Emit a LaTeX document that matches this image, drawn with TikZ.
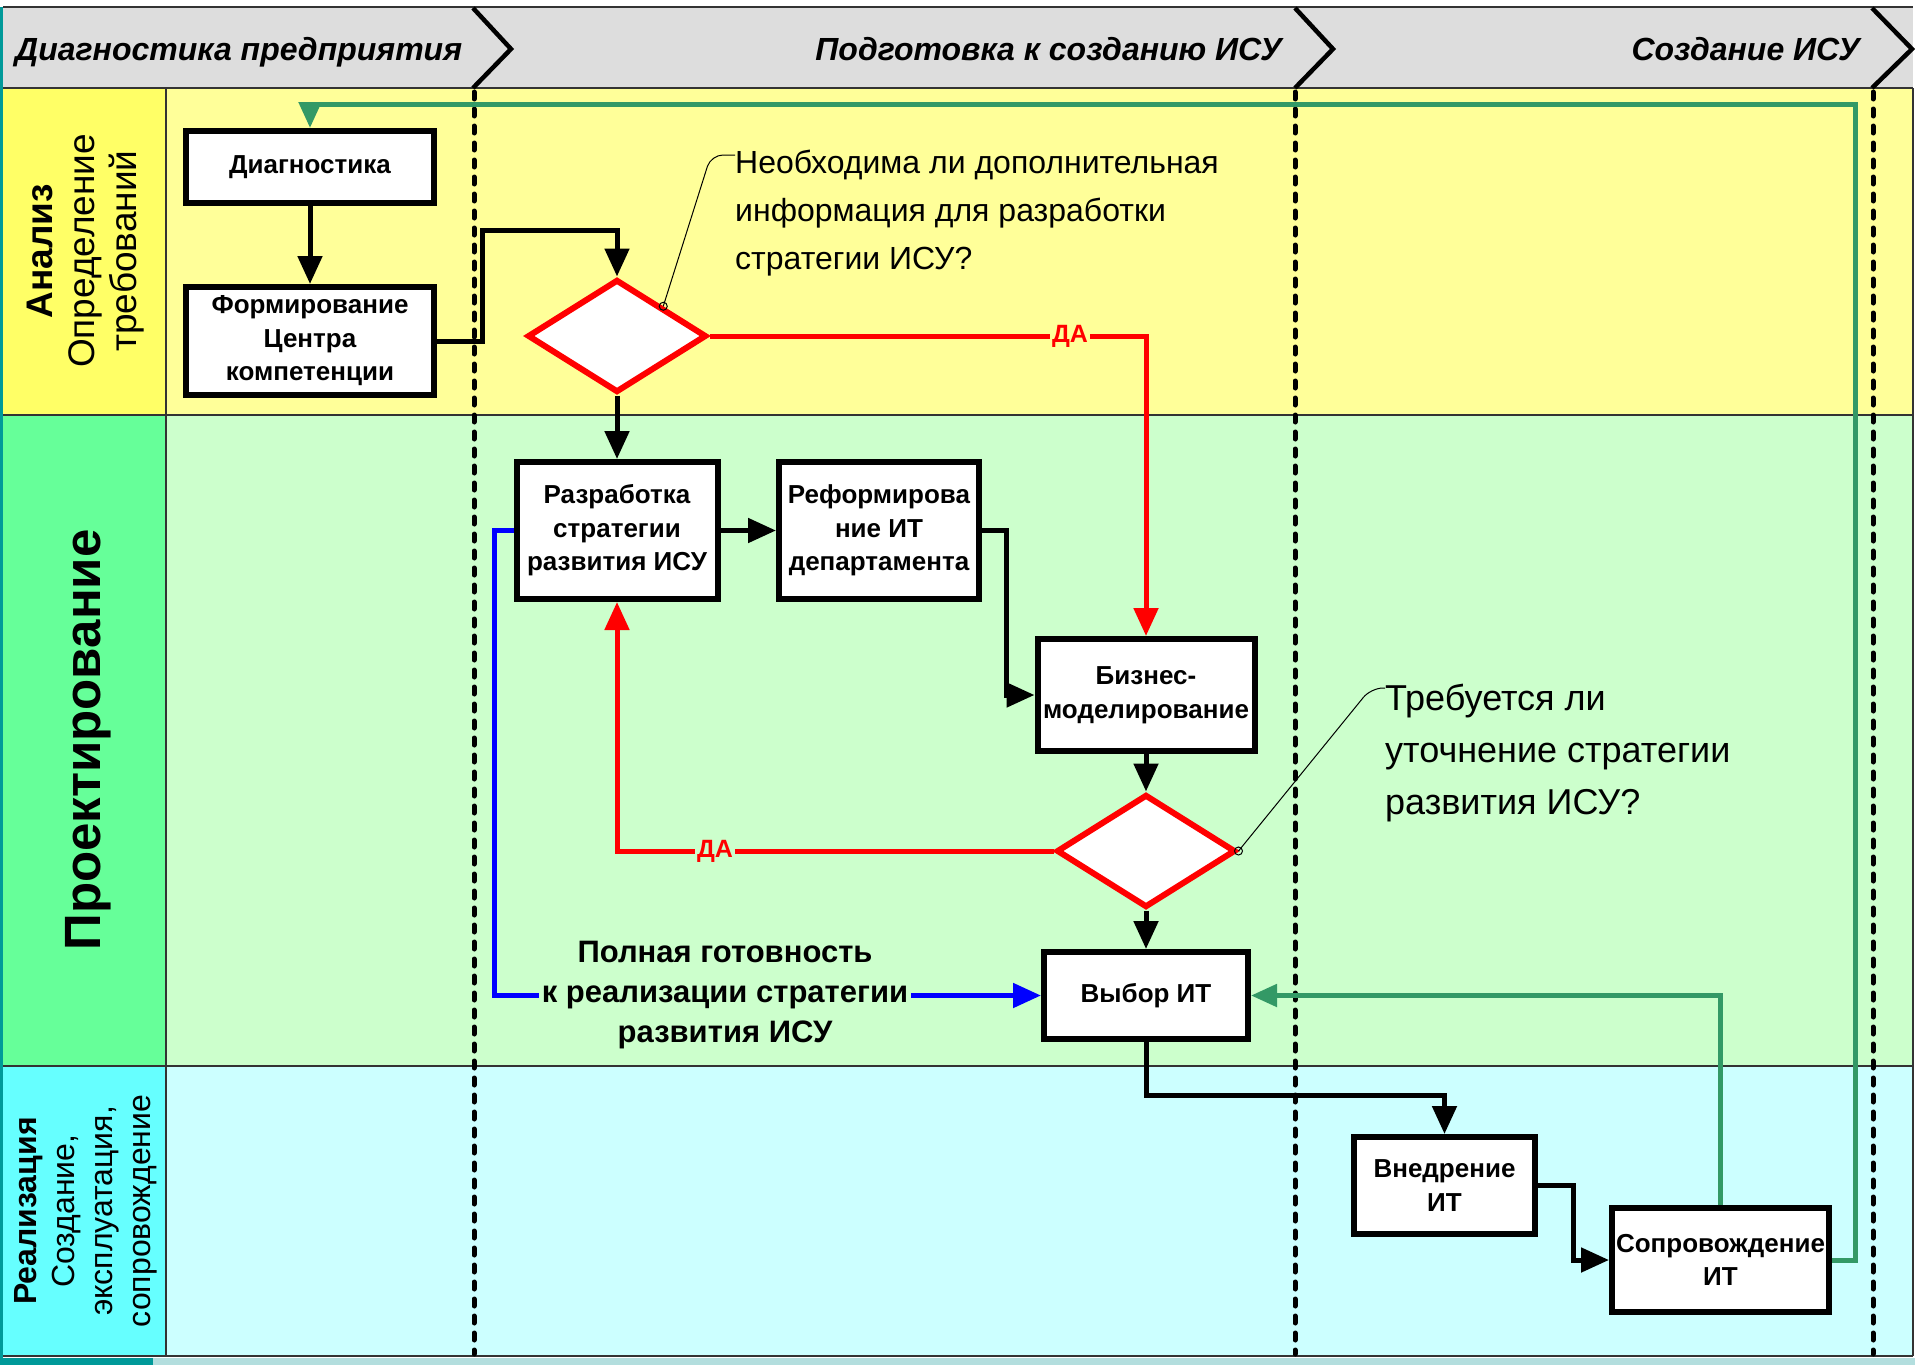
\documentclass[tikz,border=0pt]{standalone}
\usepackage{fontspec}
\setmainfont{Liberation Sans}
\usetikzlibrary{arrows.meta,shapes.geometric,calc}
\definecolor{hdr}{HTML}{DDDDDD}
\definecolor{ycol}{HTML}{FFFF66}
\definecolor{ybody}{HTML}{FFFF99}
\definecolor{gcol}{HTML}{66FF99}
\definecolor{gbody}{HTML}{CCFFCC}
\definecolor{ccol}{HTML}{66FFFF}
\definecolor{cbody}{HTML}{CCFFFF}
\definecolor{tealx}{HTML}{009999}
\definecolor{stripx}{HTML}{B3DEDE}
\definecolor{gline}{HTML}{339966}
\definecolor{redl}{HTML}{FF0000}
\definecolor{bluel}{HTML}{0000FF}
\definecolor{lanel}{HTML}{333333}
\newcommand\bxfont{\fontsize{26pt}{33.5pt}\selectfont\bfseries}
\newcommand\hdfont{\fontsize{32pt}{40pt}\selectfont\bfseries\itshape}
\begin{document}
\begin{tikzpicture}[x=1pt,y=-1pt,
  box/.style={draw=black, line width=6pt, fill=white, inner sep=0pt, align=center, font=\bxfont},
  dec/.style={diamond, draw=redl, line width=6pt, fill=white, minimum width=179pt, minimum height=113pt, inner sep=0pt},
  conn/.style={draw=black, line width=5pt, -{Triangle[length=28pt,width=24pt]}},
  redconn/.style={draw=redl, line width=5pt, -{Triangle[length=28pt,width=24pt]}},
  blueconn/.style={draw=bluel, line width=5pt, -{Triangle[length=28pt,width=24pt]}},
  greenconn/.style={draw=gline, line width=5pt, -{Triangle[length=26pt,width=22pt]}},
  dalab/.style={text=redl, font=\fontsize{25pt}{30pt}\selectfont\bfseries, inner sep=2pt},
  hdrlab/.style={font=\hdfont, inner sep=0pt},
  lanelab/.style={rotate=90, align=center, inner sep=0pt},
  leader/.style={draw=black, line width=1pt},
  dashline/.style={draw=black, line width=5pt, dash pattern=on 7pt off 10pt, line cap=round},
  laneline/.style={draw=lanel, line width=1.5pt}
]
\useasboundingbox (0,0) rectangle (1915,1365);
\fill[white] (0,0) rectangle (1915,1365);
% header
\fill[hdr] (3,7) rectangle (1913,88);
\draw[laneline] (3,7) -- (1913,7);
% lanes
\fill[ycol] (3,88) rectangle (166,415);
\fill[ybody] (166,88) rectangle (1913,415);
\fill[gcol] (3,415) rectangle (166,1066);
\fill[gbody] (166,415) rectangle (1913,1066);
\fill[ccol] (3,1066) rectangle (166,1356);
\fill[cbody] (166,1066) rectangle (1913,1356);
\fill[tealx] (0,7) rectangle (3,1358);
\fill[tealx] (0,1358) rectangle (153,1365);
\fill[stripx] (153,1358) rectangle (1915,1365);
\draw[laneline] (3,88) -- (1913,88);
\draw[laneline] (3,415) -- (1913,415);
\draw[laneline] (3,1066) -- (1913,1066);
\draw[laneline] (3,1356) -- (1913,1356);
\draw[laneline] (166,88) -- (166,1356);
\draw[laneline] (1913,88) -- (1913,1356);
% chevrons
\draw[line width=4.5pt] (473,8) -- (511,49) -- (473,88);
\draw[line width=4.5pt] (1295,8) -- (1333,49) -- (1295,88);
\draw[line width=4.5pt] (1872,8) -- (1912,49) -- (1872,88);
% dashed phase separators
\draw[dashline] (474,92) -- (474,1354);
\draw[dashline] (1295,92) -- (1295,1354);
\draw[dashline] (1873,92) -- (1873,1354);
% header labels
\node[hdrlab, anchor=base west] (h1) at (15,60) {Диагностика предприятия};
\node[hdrlab, anchor=base east] (h2) at (1282,60) {Подготовка к созданию ИСУ};
\node[hdrlab, anchor=base east] (h3) at (1860,60) {Создание ИСУ};
% lane labels
\node[lanelab, font=\fontsize{37pt}{42pt}\selectfont] (l1) at (86,251) {{\bfseries Анализ}\\Определение\\требований};
\node[lanelab, font=\fontsize{51pt}{60pt}\selectfont\bfseries] (l2) at (88,740) {Проектирование};
\node[lanelab, font=\fontsize{32pt}{38pt}\selectfont] (l3) at (86,1211) {{\bfseries Реализация}\\Создание,\\эксплуатация,\\сопровождение};
% nodes
\node[box, minimum width=248pt, minimum height=72pt] (diag) at (310,167) {Диагностика};
\node[box, minimum width=248pt, minimum height=108pt] (form) at (310,341) {Формирование\\Центра\\компетенции};
\node[dec] (d1) at (617,336) {};
\node[box, minimum width=201pt, minimum height=137pt] (razr) at (617,530.5) {Разработка\\стратегии\\развития ИСУ};
\node[box, minimum width=200pt, minimum height=137pt] (reform) at (879,530.5) {Реформирова\\ние ИТ\\департамента};
\node[box, minimum width=217pt, minimum height=112pt] (biz) at (1146,695) {Бизнес-\\моделирование};
\node[dec] (d2) at (1146,851) {};
\node[box, minimum width=204pt, minimum height=87pt] (vybor) at (1146,995.5) {Выбор ИТ};
\node[box, minimum width=181pt, minimum height=97pt] (vnedr) at (1444.5,1185.5) {Внедрение\\ИТ};
\node[box, minimum width=217pt, minimum height=104pt] (sopr) at (1720.5,1260) {Сопровождение\\ИТ};
% black connectors
\coordinate (c1) at (482,230);
\draw[conn] (diag.south) -- (form.north);
\draw[conn] (form.east) -| (c1) -| (d1.north);
\draw[conn] (d1.south) -- (razr.north);
\draw[conn] (razr.east) -- (reform.west);
\draw[conn] (reform.east) -- ++(24,0) |- (biz.west);
\draw[conn] (biz.south) -- (d2.north);
\draw[conn] (d2.south) -- (vybor.north);
\draw[conn] (vybor.south) -- ++(0,53) -| (vnedr.north);
\draw[conn] (vnedr.east) -- ++(35,0) |- (sopr.west);
% red
\draw[redconn] (d1.east) -| (biz.north);
\draw[redconn] (d2.west) -| (razr.south);
\node[dalab, fill=ybody] (da1) at (1070,336) {ДА};
\node[dalab, fill=gbody] (da2) at (715,851) {ДА};
% blue
\draw[blueconn] (razr.west) -- ++(-19,0) |- (vybor.west);
\node[align=center, font=\fontsize{31pt}{40pt}\selectfont\bfseries, fill=gbody, inner sep=3pt] (ready) at (725,995) {Полная готовность\\к реализации стратегии\\развития ИСУ};
% green
\coordinate (gtop) at (1855,104);
\draw[greenconn] (sopr.north) |- (vybor.east);
\draw[greenconn] (sopr.east) -| (gtop) -| (diag.north);
% callouts
\node[anchor=north west, inner sep=0pt, align=left, font=\fontsize{32pt}{48pt}\selectfont] (q1) at (735,150) {Необходима ли дополнительная\\информация для разработки\\стратегии ИСУ?};
\draw[leader] (d1.north east) circle (4pt);
\draw[leader, rounded corners=12pt] (d1.north east) -- (711,155) -- ($(q1.north west)+(0,5)$);
\node[anchor=north west, inner sep=0pt, align=left, font=\fontsize{36pt}{52pt}\selectfont] (q2) at (1385,684) {Требуется ли\\уточнение стратегии\\развития ИСУ?};
\draw[leader] (d2.east) circle (4pt);
\draw[leader, rounded corners=12pt] (d2.east) -- (1371,688) -- ($(q2.north west)+(0,4)$);
\end{tikzpicture}
\end{document}
